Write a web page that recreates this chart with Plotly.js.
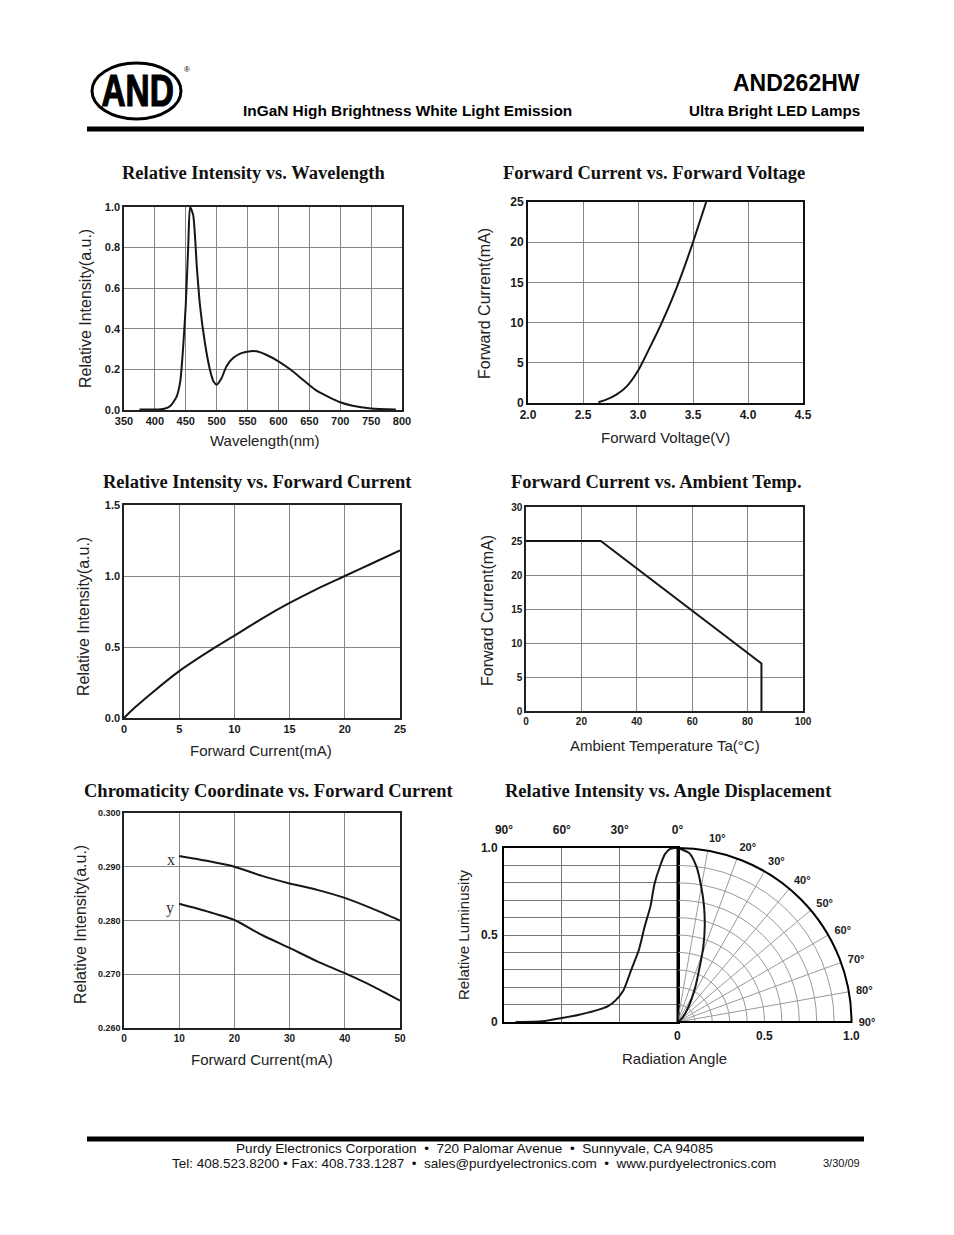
<!DOCTYPE html>
<html><head><meta charset="utf-8">
<script src="https://cdn.plot.ly/plotly-3.0.1.min.js"></script>
<style>
html,body{margin:0;padding:0;background:#fff}
#chart{width:954px;height:1235px}
g.annotation[data-index="0"] text.annotation-text{transform:scaleX(0.76);transform-box:fill-box;transform-origin:center;stroke:#000;stroke-width:1.2px}
</style>
</head><body><div id="chart"></div>
<script>
// ---------------- DATA ----------------
// Relative Intensity vs. Wavelength
const wavelengthNm = [375, 400, 415, 425, 435, 441, 446, 450, 454, 457, 462, 468, 473, 481, 489, 495, 500, 508, 516, 527, 540, 555, 565, 580, 600, 620, 640, 660, 680, 700, 720, 750, 790];
const spectrumIntensity = [0.003, 0.002, 0.006, 0.02, 0.065, 0.14, 0.32, 0.52, 0.81, 1.0, 0.96, 0.70, 0.515, 0.33, 0.2, 0.14, 0.125, 0.158, 0.216, 0.257, 0.28, 0.29, 0.289, 0.272, 0.24, 0.198, 0.148, 0.099, 0.066, 0.038, 0.021, 0.008, 0.003];
// Forward Current vs. Forward Voltage
const forwardVoltageV = [2.64, 2.70, 2.80, 2.90, 3.00, 3.10, 3.20, 3.30, 3.40, 3.50, 3.62];
const forwardCurrentAtV = [0.1, 0.35, 1.0, 2.1, 4.0, 6.7, 9.5, 12.6, 16.1, 20.0, 25.0];
// Relative Intensity vs. Forward Current
const currentMa = [0, 1, 2.5, 5, 7.5, 10, 12.5, 15, 17.5, 20, 22.5, 25];
const relIntensityAtI = [0, 0.075, 0.175, 0.33, 0.46, 0.58, 0.70, 0.81, 0.91, 1.0, 1.09, 1.18];
// Forward Current vs. Ambient Temp.
const ambientTempC = [0, 27, 85, 85];
const maxCurrentMa = [25, 25, 7, 0];
// Chromaticity Coordinate vs. Forward Current
const chromCurrentMa = [10, 15, 20, 25, 30, 35, 40, 45, 50];
const chromX = [0.292, 0.2911, 0.290, 0.2883, 0.2869, 0.2857, 0.2842, 0.2822, 0.280];
const chromY = [0.2831, 0.2817, 0.2801, 0.2773, 0.2749, 0.2724, 0.2702, 0.2678, 0.2651];
// Relative Intensity vs. Angle Displacement (cartesian half)
const radAngleDeg = [84, 70, 60, 51, 43, 36, 32, 28, 24, 20, 17, 14, 12, 9, 6.5, 4, 1.5, 0];
const radLuminosity = [0, 0.004, 0.023, 0.042, 0.064, 0.091, 0.126, 0.183, 0.3, 0.415, 0.55, 0.666, 0.79, 0.898, 0.965, 0.994, 1.0, 1.0];
// polar half
const polarThetaDeg = [0, 4, 7, 10, 13, 16, 19, 22, 27, 36, 52, 90];
const polarR = [1.0, 0.973, 0.898, 0.788, 0.679, 0.568, 0.455, 0.34, 0.225, 0.107, 0.031, 0];
// tick labels
const lumMajorTicks = [0, 0.5, 1.0];
const lumMajorLabels = ['0', '0.5', '1.0'];
const polarRadiusTicks = [0, 0.1, 0.2, 0.3, 0.4, 0.5, 0.6, 0.7, 0.8, 0.9, 1.0];
const topAngleTicks = [90, 60, 30, 0];
const topAngleLabels = ['90°', '60°', '30°', '0°'];
const polarAngleTicks = [10, 20, 30, 40, 50, 60, 70, 80, 90];
const polarAngleLabels = ['10°', '20°', '30°', '40°', '50°', '60°', '70°', '80°', '90°'];

// ---------------- LAYOUT HELPERS ----------------
const W = 954, H = 1235;
const dom = (a, b) => [a / W, b / W];
const domY = (top, bottom) => [1 - bottom / H, 1 - top / H];
const SANS = "'Liberation Sans', Arial, Helvetica, sans-serif";
const SERIF = "'Liberation Serif', 'Times New Roman', serif";

function cax(domain, range, extra) {
  return Object.assign({
    domain: domain, range: range, showgrid: true, gridcolor: '#858585', gridwidth: 1,
    zeroline: false, showline: true, mirror: true, linecolor: '#222', linewidth: 1.7,
    ticks: '', fixedrange: true,
    tickfont: {family: SANS, size: 11, color: '#1a1a1a', weight: 'bold'}
  }, extra || {});
}
const curve = {color: '#161616', width: 2};
const smooth = (o) => Object.assign({shape: 'spline', smoothing: 0.6}, curve, o || {});

const traces = [
  {type: 'scatter', mode: 'lines', x: wavelengthNm, y: spectrumIntensity, xaxis: 'x', yaxis: 'y', line: smooth(), hoverinfo: 'skip'},
  {type: 'scatter', mode: 'lines', x: forwardVoltageV, y: forwardCurrentAtV, xaxis: 'x2', yaxis: 'y2', line: smooth(), hoverinfo: 'skip'},
  {type: 'scatter', mode: 'lines', x: currentMa, y: relIntensityAtI, xaxis: 'x3', yaxis: 'y3', line: smooth(), hoverinfo: 'skip'},
  {type: 'scatter', mode: 'lines', x: ambientTempC, y: maxCurrentMa, xaxis: 'x4', yaxis: 'y4', line: curve, hoverinfo: 'skip'},
  {type: 'scatter', mode: 'lines', x: chromCurrentMa, y: chromX, xaxis: 'x5', yaxis: 'y5', line: smooth(), hoverinfo: 'skip'},
  {type: 'scatter', mode: 'lines', x: chromCurrentMa, y: chromY, xaxis: 'x5', yaxis: 'y5', line: smooth(), hoverinfo: 'skip'},
  {type: 'scatter', mode: 'lines', x: radAngleDeg, y: radLuminosity, xaxis: 'x6', yaxis: 'y6', line: smooth(), hoverinfo: 'skip'},
  {type: 'scatterpolar', mode: 'lines', theta: polarThetaDeg, r: polarR, subplot: 'polar', line: smooth(), hoverinfo: 'skip'}
];

function paperText(text, x, y, font, opts) {
  return Object.assign({
    text: text, x: x / W, y: 1 - y / H, xref: 'paper', yref: 'paper', showarrow: false,
    xanchor: 'center', yanchor: 'middle', font: font
  }, opts || {});
}
const f = (size, o) => Object.assign({family: SANS, size: size, color: '#111'}, o || {});
const titleFont = {family: SERIF, size: 18.5, color: '#111', weight: 'bold'};
const axFont = f(15, {color: '#222'});
const yFont = f(16, {color: '#222'});
const tickF = (s) => ({family: SANS, size: s, color: '#1a1a1a', weight: 'bold'});

// polar radial-axis labels placed along the polar base line (center x=677.5, radius 174px)
const POLAR_CX = 677.5, POLAR_R = 174;

const annotations = [
  // header
  paperText('AND', 137, 90, f(44, {color: '#000', weight: 'bold'})),
  paperText('®', 187, 70, f(8, {color: '#000'})),
  paperText('AND262HW', 862, 83, f(23, {color: '#000', weight: 'bold'}), {xanchor: 'right'}),
  paperText('InGaN High Brightness White Light Emission', 407, 111, f(15.4, {color: '#000', weight: 'bold'})),
  paperText('Ultra Bright LED Lamps', 862, 111, f(15.2, {color: '#000', weight: 'bold'}), {xanchor: 'right'}),
  // chart titles
  paperText('Relative Intensity vs. Wavelength', 253, 173, titleFont),
  paperText('Forward Current vs. Forward Voltage', 654, 173, titleFont),
  paperText('Relative Intensity vs. Forward Current', 257, 482, titleFont),
  paperText('Forward Current vs. Ambient Temp.', 656, 482, titleFont),
  paperText('Chromaticity Coordinate vs. Forward Current', 269, 791, titleFont),
  paperText('Relative Intensity vs. Angle Displacement', 668, 791, titleFont),
  // x axis titles
  paperText('Wavelength(nm)', 264, 440, axFont),
  paperText('Forward Voltage(V)', 665, 437, axFont),
  paperText('Forward Current(mA)', 261, 750, axFont),
  paperText('Ambient Temperature Ta(°C)', 665, 745, axFont),
  paperText('Forward Current(mA)', 262, 1059, axFont),
  paperText('Radiation Angle', 674, 1058, axFont),
  // y axis titles
  paperText('Relative Intensity(a.u.)', 86, 309, yFont, {textangle: -90}),
  paperText('Forward Current(mA)', 484, 303, yFont, {textangle: -90}),
  paperText('Relative Intensity(a.u.)', 83, 617, yFont, {textangle: -90}),
  paperText('Forward Current(mA)', 487, 610, yFont, {textangle: -90}),
  paperText('Relative Intensity(a.u.)', 80, 925, yFont, {textangle: -90}),
  paperText('Relative Luminusity', 463, 935, f(15, {color: '#222'}), {textangle: -90}),
  // series labels in chromaticity chart
  {text: 'x', x: 8.5, y: 0.2914, xref: 'x5', yref: 'y5', showarrow: false, font: {family: SERIF, size: 16, color: '#333'}},
  {text: 'y', x: 8.3, y: 0.2823, xref: 'x5', yref: 'y5', showarrow: false, font: {family: SERIF, size: 16, color: '#333'}},
  // footer
  paperText('Purdy Electronics Corporation  •  720 Palomar Avenue  •  Sunnyvale, CA 94085', 474, 1148, f(13.6)),
  paperText('Tel: 408.523.8200 • Fax: 408.733.1287  •  sales@purdyelectronics.com  •  www.purdyelectronics.com', 474, 1163, f(13.5)),
  paperText('3/30/09', 862, 1163, f(11), {xanchor: 'right'})
];
// radial axis labels of the polar half
lumMajorTicks.forEach((v, i) => {
  annotations.push(paperText(lumMajorLabels[i], POLAR_CX + v * POLAR_R, 1036, tickF(12)));
});

const shapes = [
  {type: 'circle', xref: 'paper', yref: 'paper', x0: 92 / W, x1: 181 / W, y0: 1 - 119 / H, y1: 1 - 63 / H, line: {color: '#000', width: 3}},
  {type: 'line', xref: 'paper', yref: 'paper', x0: 87 / W, x1: 864 / W, y0: 1 - 129 / H, y1: 1 - 129 / H, line: {color: '#000', width: 5}},
  {type: 'line', xref: 'paper', yref: 'paper', x0: 87 / W, x1: 864 / W, y0: 1 - 1139 / H, y1: 1 - 1139 / H, line: {color: '#000', width: 5}}
];

const layout = {
  width: W, height: H, margin: {l: 0, r: 0, t: 0, b: 0}, paper_bgcolor: '#fff', plot_bgcolor: '#fff',
  showlegend: false, hovermode: false, annotations: annotations, shapes: shapes,
  xaxis: cax(dom(124, 402), [350, 800], {anchor: 'y', tickmode: 'linear', tick0: 350, dtick: 50}),
  yaxis: cax(domY(207, 410), [0, 1], {anchor: 'x', dtick: 0.2, tickformat: '.1f'}),
  xaxis2: cax(dom(528, 803), [2, 4.5], {anchor: 'y2', dtick: 0.5, tickformat: '.1f', tickfont: tickF(12), linecolor: '#111', linewidth: 2}),
  yaxis2: cax(domY(202, 403), [0, 25], {anchor: 'x2', dtick: 5, tickfont: tickF(12), linecolor: '#111', linewidth: 2}),
  xaxis3: cax(dom(124, 400), [0, 25], {anchor: 'y3', dtick: 5}),
  yaxis3: cax(domY(505, 718), [0, 1.5], {anchor: 'x3', dtick: 0.5, tickformat: '.1f'}),
  xaxis4: cax(dom(526, 803), [0, 100], {anchor: 'y4', dtick: 20, tickfont: tickF(10)}),
  yaxis4: cax(domY(507, 711), [0, 30], {anchor: 'x4', dtick: 5, tickfont: tickF(10)}),
  xaxis5: cax(dom(124, 400), [0, 50], {anchor: 'y5', dtick: 10, tickfont: tickF(10)}),
  yaxis5: cax(domY(813, 1028), [0.26, 0.30], {anchor: 'x5', dtick: 0.01, tickformat: '.3f', tickfont: tickF(9)}),
  xaxis6: cax(dom(504, 677.5), [90, 0], {anchor: 'y6', side: 'top', tickmode: 'array', tickvals: topAngleTicks, ticktext: topAngleLabels, linecolor: '#000', linewidth: 2, gridcolor: '#777', ticklabelstandoff: 7, tickfont: tickF(12)}),
  yaxis6: cax(domY(848, 1022), [0, 1], {anchor: 'x6', tickmode: 'array', tickvals: lumMajorTicks, ticktext: lumMajorLabels, linecolor: '#000', linewidth: 2, gridcolor: '#777', ticklabelstandoff: 2,
    minor: {dtick: 0.1, tick0: 0, showgrid: true, gridcolor: '#777', gridwidth: 1}, tickfont: tickF(12)}),
  polar: {
    domain: {x: dom(677.5, 851.5), y: domY(848, 1022)},
    sector: [0, 90], bgcolor: 'rgba(0,0,0,0)',
    angularaxis: {rotation: 90, direction: 'clockwise', tickmode: 'array', tickvals: polarAngleTicks, ticktext: polarAngleLabels,
      showline: true, linecolor: '#000', linewidth: 2, gridcolor: '#9a9a9a', ticks: 'outside', ticklen: 4, tickcolor: 'rgba(0,0,0,0)',
      tickfont: tickF(11)},
    radialaxis: {range: [0, 1], tickmode: 'array', tickvals: polarRadiusTicks, showticklabels: false, angle: 0,
      showline: true, linecolor: '#000', linewidth: 2, gridcolor: '#9a9a9a', ticks: ''}
  }
};

Plotly.newPlot('chart', traces, layout, {staticPlot: true, displayModeBar: false});
</script></body></html>
